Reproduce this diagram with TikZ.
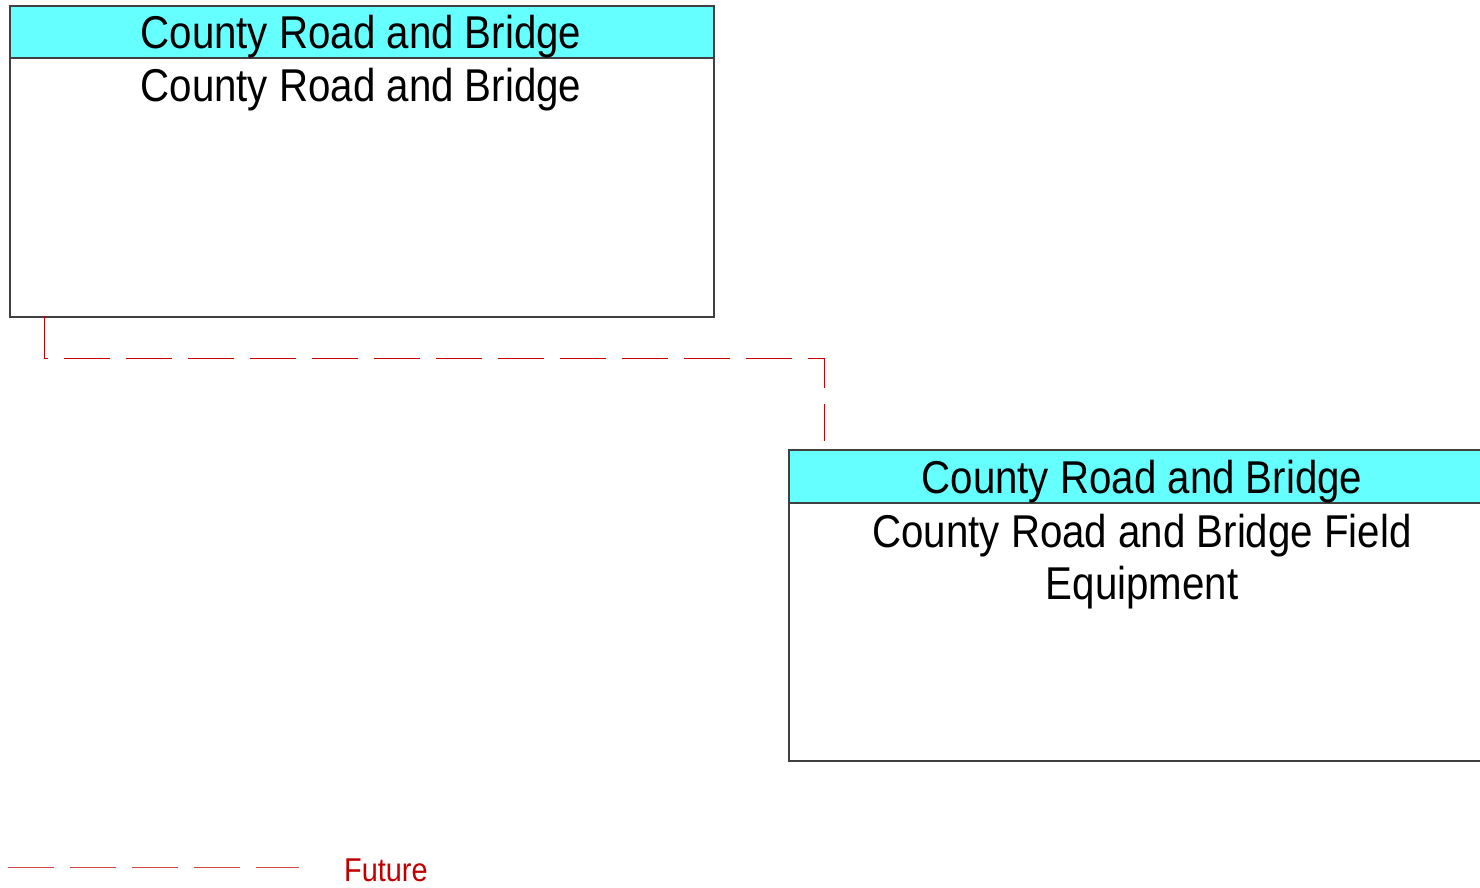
\documentclass[tikz,border=0pt]{standalone}
\usepackage{fontspec}
\setmainfont{Liberation Sans}
\newfontfamily\cfont[FakeStretch=0.875]{Liberation Sans}
\definecolor{hdr}{RGB}{102,255,255}
\definecolor{edge}{RGB}{64,64,64}
\definecolor{flow}{RGB}{204,0,0}
\definecolor{legline}{RGB}{210,70,70}
\definecolor{legtext}{RGB}{192,0,0}
\begin{document}
\begin{tikzpicture}[x=1pt,y=-1pt,
  boxbody/.style={draw=edge,line width=1.5pt,fill=white,anchor=north west,inner sep=0pt},
  boxhead/.style={draw=edge,line width=1.5pt,fill=hdr,anchor=north west,inner sep=0pt},
  lbl/.style={font=\cfont\fontsize{46}{52}\selectfont,anchor=base,inner sep=0pt,align=center},
  futureflow/.style={draw=flow,line width=1pt,dash pattern=on 46pt off 16pt}]
\useasboundingbox (0,0) rectangle (1480,887);
\clip (0,0) rectangle (1480,887);
% box 1
\node[boxbody,minimum width=704pt,minimum height=311pt] (b1) at (9,5) {};
\node[boxhead,minimum width=704pt,minimum height=52pt] (b1h) at (9,5) {};
\node[lbl] (b1ht) at (361,48) {County Road and Bridge};
\node[lbl] (b1bt) at (361,101) {County Road and Bridge};
% box 2
\node[boxbody,minimum width=709pt,minimum height=311pt] (b2) at (788,449) {};
\node[boxhead,minimum width=709pt,minimum height=53pt] (b2h) at (788,449) {};
\node[lbl] (b2ht) at (1142,493) {County Road and Bridge};
\node[lbl] (b2bt) at (1142,599) {County Road and Bridge Field\\Equipment};
% connector
\coordinate (c1) at (44,316);
\coordinate (c2) at (44,358);
\coordinate (c3) at (824,358);
\coordinate (c4) at (824,441);
\draw[futureflow] (c1) -- (c2) -- (c3) -- (c4);
% legend
\coordinate (l1) at (8,867);
\coordinate (l2) at (299,867);
\draw[draw=legline,line width=1pt,dash pattern=on 46pt off 16pt] (l1) -- (l2);
\node[font=\cfont\fontsize{33}{40}\selectfont,text=legtext,anchor=base west,inner sep=0pt] (lt) at (344,881) {Future};
\end{tikzpicture}
\end{document}
